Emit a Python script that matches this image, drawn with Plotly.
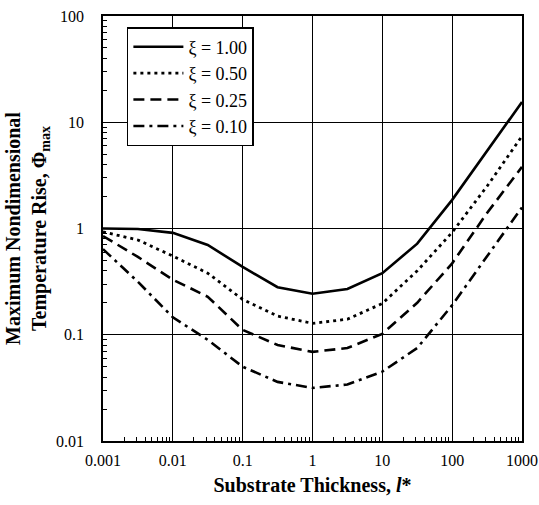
import plotly.graph_objects as go

# Data
thickness = [0.001, 0.00316, 0.01, 0.0316, 0.1, 0.316, 1, 3.16, 10, 31.6, 100, 316, 1000]
phi_xi_100 = [1.0, 0.99, 0.91, 0.70, 0.435, 0.28, 0.243, 0.27, 0.38, 0.72, 1.86, 5.4, 15.5]
phi_xi_050 = [0.93, 0.78, 0.55, 0.38, 0.215, 0.150, 0.128, 0.140, 0.197, 0.40, 0.92, 2.5, 7.4]
phi_xi_025 = [0.85, 0.54, 0.33, 0.228, 0.111, 0.080, 0.069, 0.075, 0.102, 0.20, 0.47, 1.4, 3.8]
phi_xi_010 = [0.64, 0.315, 0.146, 0.0895, 0.050, 0.036, 0.0316, 0.034, 0.045, 0.075, 0.19, 0.54, 1.58]

series_names = ["ξ = 1.00", "ξ = 0.50", "ξ = 0.25", "ξ = 0.10"]
series_values = [phi_xi_100, phi_xi_050, phi_xi_025, phi_xi_010]

x_tick_vals = [0.001, 0.01, 0.1, 1, 10, 100, 1000]
x_tick_text = ["0.001", "0.01", "0.1", "1", "10", "100", "1000"]
y_tick_vals = [0.01, 0.1, 1, 10, 100]
y_tick_text = ["0.01", "0.1", "1", "10", "100"]

x_minor = [m * 10.0 ** e for e in range(-3, 3) for m in range(2, 10)]
y_minor = [m * 10.0 ** e for e in range(-2, 2) for m in range(2, 10)]

dashes = ["solid", "3px,4px", "11px,6px", "11px,5px,3px,5px"]
widths = [2.6, 2.8, 2.6, 2.6]

FONT = "Liberation Serif"

fig = go.Figure()
for name, vals, d, w in zip(series_names, series_values, dashes, widths):
    fig.add_trace(go.Scatter(
        x=thickness, y=vals, mode="lines", name=name,
        line=dict(color="black", width=w, dash=d),
    ))

axis_common = dict(
    type="log", automargin=False,
    showline=True, linecolor="black", linewidth=1.5, mirror=True,
    showgrid=True, gridcolor="black", gridwidth=1,
    ticks="inside", ticklen=6, tickcolor="black", tickwidth=1,
    tickfont=dict(family=FONT, size=16, color="black"),
    zeroline=False,
)

fig.update_xaxes(
    **axis_common,
    range=[-3, 3],
    tickvals=x_tick_vals, ticktext=x_tick_text,
    minor=dict(tickmode="array", tickvals=x_minor, ticks="inside", ticklen=4,
               tickcolor="black", tickwidth=1, showgrid=False),
    ticklabelstandoff=4,
    title=dict(text="<b>Substrate Thickness, <i>l</i>*</b>",
               font=dict(family=FONT, size=20, color="black"), standoff=10),
)
fig.update_yaxes(
    **axis_common,
    range=[-2, 2],
    tickvals=y_tick_vals, ticktext=y_tick_text,
    minor=dict(tickmode="array", tickvals=y_minor, ticks="inside", ticklen=4,
               tickcolor="black", tickwidth=1, showgrid=False),
    ticklabelstandoff=14,
    title=dict(text="<b>Maximum Nondimensional<br>Temperature Rise, Φ<sub>max</sub></b>",
               font=dict(family=FONT, size=20, color="black"), standoff=4),
)

fig.update_layout(
    width=539, height=505,
    margin=dict(l=103, r=17, t=16, b=64),
    paper_bgcolor="white", plot_bgcolor="white",
    font=dict(family=FONT, color="black"),
    legend=dict(
        x=0.057, y=0.974, xanchor="left", yanchor="top",
        bgcolor="white", bordercolor="black", borderwidth=1.5,
        font=dict(family=FONT, size=18, color="black"),
        itemwidth=50,
    ),
    showlegend=True,
)

fig.write_html(
    "out.html",
    config={"displayModeBar": False},
    post_script="document.body.style.margin='0px';document.body.style.padding='0px';",
)
